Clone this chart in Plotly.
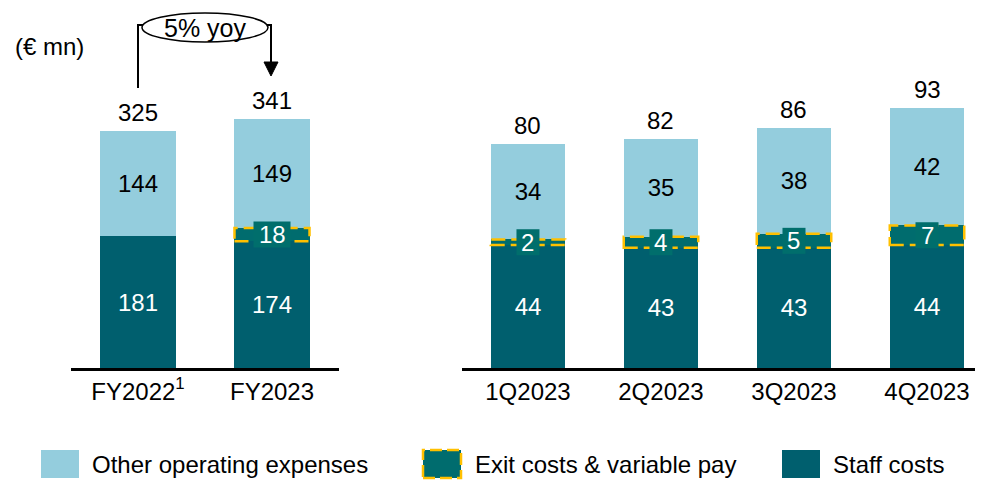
import plotly.graph_objects as go

# ---- data ----
fy_cats = ["FY2022<sup>1</sup>", "FY2023"]
fy_staff = [181, 174]
fy_exit = [0, 18]
fy_other = [144, 149]
fy_total = [325, 341]

q_cats = ["1Q2023", "2Q2023", "3Q2023", "4Q2023"]
q_staff = [44, 43, 43, 44]
q_exit = [2, 4, 5, 7]
q_other = [34, 35, 38, 42]
q_total = [80, 82, 86, 93]

yoy_label = "5% yoy"
unit_label = "(€ mn)"
legend_names = ["Other operating expenses", "Exit costs & variable pay", "Staff costs"]

# ---- styles ----
C_OTHER = "#94CDDD"
C_STAFF = "#005F6E"
C_EXIT = "#006C6E"
C_LABEL = "#006E6C"
C_GOLD = "#FFC000"
FONT = "Arial, Liberation Sans, sans-serif"
FS = 24
OFF = 8  # page body margin
W, H = 983 - OFF, 481 - OFF
BAR_W = 0.56

fig = go.Figure()


def add_panel(cats, staff, exitv, other, total, xa, ya):
    idx = list(range(len(cats)))
    fig.add_trace(go.Bar(x=idx, y=staff, marker_color=C_STAFF, width=BAR_W,
                         marker_line_width=0, xaxis=xa, yaxis=ya, showlegend=False,
                         text=[str(v) for v in staff], textposition="inside",
                         insidetextanchor="middle",
                         textfont=dict(color="white", size=FS, family=FONT)))
    fig.add_trace(go.Bar(x=idx, y=exitv, marker_color=C_EXIT, width=BAR_W,
                         marker_line_width=0, xaxis=xa, yaxis=ya, showlegend=False,
                         hoverinfo="skip"))
    fig.add_trace(go.Bar(x=idx, y=other, marker_color=C_OTHER, width=BAR_W,
                         marker_line_width=0, xaxis=xa, yaxis=ya, showlegend=False,
                         text=[str(v) for v in other], textposition="inside",
                         insidetextanchor="middle",
                         textfont=dict(color="black", size=FS, family=FONT)))
    for i in idx:
        fig.add_annotation(x=i, y=total[i], xref=xa, yref=ya, text=str(total[i]),
                           showarrow=False, xanchor="center", yanchor="bottom", yshift=3,
                           font=dict(size=FS, color="black", family=FONT))
        if exitv[i] > 0:
            mid = staff[i] + exitv[i] / 2
            fig.add_shape(type="rect", xref=xa, yref=ya,
                          x0=i - BAR_W / 2, x1=i + BAR_W / 2,
                          y0=staff[i], y1=staff[i] + exitv[i],
                          line=dict(color=C_GOLD, width=2.5, dash="14px,6px"),
                          fillcolor="rgba(0,0,0,0)", layer="above")
            bw = 14 * len(str(exitv[i])) + 9
            fig.add_shape(type="rect", xref=xa, yref=ya,
                          xsizemode="pixel", ysizemode="pixel",
                          xanchor=i, yanchor=mid,
                          x0=-bw / 2, x1=bw / 2, y0=-13, y1=13,
                          line=dict(width=0), fillcolor=C_LABEL, layer="above")
            fig.add_annotation(x=i, y=mid, xref=xa, yref=ya,
                               text=str(exitv[i]), showarrow=False,
                               xanchor="center", yanchor="middle",
                               font=dict(size=FS, color="white", family=FONT))


add_panel(fy_cats, fy_staff, fy_exit, fy_other, fy_total, "x", "y")
add_panel(q_cats, q_staff, q_exit, q_other, q_total, "x2", "y2")


def fx(x):
    return (x - OFF) / W


def fy(y):
    return 1 - (y - OFF) / H


base = 368 - OFF
ydom = [(H - base) / H, 1]
axis_common = dict(showgrid=False, zeroline=False, showline=True, linecolor="black",
                   linewidth=2.5, ticks="", tickfont=dict(size=FS, color="black", family=FONT),
                   fixedrange=True)

fig.update_layout(
    width=W, height=H,
    margin=dict(l=0, r=0, t=0, b=0, autoexpand=False),
    paper_bgcolor="white", plot_bgcolor="white",
    barmode="stack", showlegend=False,
    xaxis=dict(domain=[fx(71), fx(339)], range=[-0.5, 1.5], tickmode="array",
               tickvals=[0, 1], ticktext=fy_cats, anchor="y", **axis_common),
    yaxis=dict(domain=ydom, range=[0, base / 0.729], visible=False, anchor="x"),
    xaxis2=dict(domain=[fx(462), 1], range=[-0.496, 3.421], tickmode="array",
                tickvals=[0, 1, 2, 3], ticktext=q_cats, anchor="y2", **axis_common),
    yaxis2=dict(domain=ydom, range=[0, base / 2.795], visible=False, anchor="x2"),
)

# unit label
fig.add_annotation(x=fx(13), y=fy(46), xref="paper", yref="paper", text=unit_label,
                   showarrow=False, xanchor="left", yanchor="middle",
                   font=dict(size=FS, color="black", family=FONT))

# yoy ellipse and connectors
fig.add_shape(type="path", xref="paper", yref="paper",
              path=f"M {fx(138)},{fy(88)} L {fx(138)},{fy(25)} L {fx(143)},{fy(25)}",
              line=dict(color="black", width=2))
fig.add_shape(type="path", xref="paper", yref="paper",
              path=f"M {fx(267)},{fy(25)} L {fx(271)},{fy(25)} L {fx(271)},{fy(64)}",
              line=dict(color="black", width=2))
fig.add_shape(type="path", xref="paper", yref="paper",
              path=f"M {fx(264)},{fy(62)} L {fx(278)},{fy(62)} L {fx(271)},{fy(76)} Z",
              line=dict(color="black", width=1), fillcolor="black")
fig.add_shape(type="circle", xref="paper", yref="paper",
              x0=fx(142), x1=fx(268), y0=fy(42), y1=fy(13),
              line=dict(color="black", width=1.5), fillcolor="white")
fig.add_annotation(x=fx(205), y=fy(28), xref="paper", yref="paper", text=yoy_label,
                   showarrow=False, xanchor="center", yanchor="middle",
                   font=dict(size=25, color="black", family=FONT))

# manual legend
leg = [
    (41, 79, 90, C_OTHER, None),
    (423, 461, 473, C_EXIT, C_GOLD),
    (782, 820, 831, C_STAFF, None),
]
for (x0, x1, tx, fc, lc), name in zip(leg, legend_names):
    fig.add_shape(type="rect", xref="paper", yref="paper",
                  x0=fx(x0), x1=fx(x1), y0=fy(478), y1=fy(450),
                  fillcolor=fc,
                  line=dict(color=lc if lc else fc, width=2.5 if lc else 0,
                            dash="12px,5px" if lc else "solid"))
    fig.add_annotation(x=fx(tx), y=fy(464), xref="paper", yref="paper", text=name,
                       showarrow=False, xanchor="left", yanchor="middle",
                       font=dict(size=FS, color="black", family=FONT))

fig.write_html("out.html", config={"displayModeBar": False})
